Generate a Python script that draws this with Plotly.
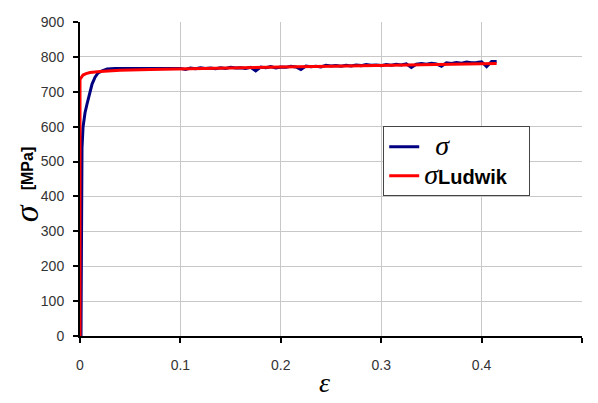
import plotly.graph_objects as go

# Experimental curve (sigma) - strain / stress [MPa]
exp_strain = [0.0, 0.0010, 0.0012, 0.0014, 0.0016, 0.002, 0.003, 0.005, 0.007, 0.010, 0.012,
              0.015, 0.018, 0.022, 0.027, 0.035, 0.040, 0.045,
              0.050, 0.055, 0.060, 0.065, 0.070, 0.075, 0.080, 0.085, 0.090, 0.095,
              0.100, 0.105, 0.110, 0.115, 0.120, 0.125, 0.130, 0.135, 0.140, 0.145,
              0.150, 0.155, 0.160, 0.165, 0.170, 0.175, 0.180, 0.185, 0.190, 0.195,
              0.200, 0.205, 0.210, 0.215, 0.220, 0.225, 0.230, 0.235, 0.240, 0.245,
              0.250, 0.255, 0.260, 0.265, 0.270, 0.275, 0.280, 0.285, 0.290, 0.295,
              0.300, 0.305, 0.310, 0.315, 0.320, 0.325, 0.330, 0.335, 0.340, 0.345,
              0.350, 0.355, 0.360, 0.365, 0.370, 0.375, 0.380, 0.385, 0.390, 0.395,
              0.400, 0.405, 0.410, 0.415]
exp_stress = [0, 0, 120, 300, 490, 540, 598, 640, 665, 700, 722,
              742, 754, 760, 765, 767, 767, 767,
              767, 768, 766, 767, 768, 767, 766, 767, 768, 766,
              767, 764, 768, 766, 769, 767, 768, 766, 769, 767,
              770, 768, 769, 767, 770, 760, 771, 769, 772, 768,
              771, 770, 773, 771, 764, 774, 772, 773, 771, 776,
              774, 775, 773, 776, 774, 777, 775, 778, 776, 777,
              775, 778, 776, 779, 777, 780, 770, 779, 781, 779,
              782, 780, 773, 783, 781, 784, 782, 785, 783, 784,
              786, 772, 787, 787]

# Ludwik fit
lud_strain = [0.0, 0.0, 0.001, 0.003, 0.006, 0.010, 0.020, 0.040, 0.070, 0.100,
              0.150, 0.200, 0.250, 0.300, 0.350, 0.400, 0.415]
lud_stress = [0, 735, 740, 748, 752, 755, 758, 762, 764, 766,
              769, 771, 773, 775, 777, 780, 781]

x_ticks = [0, 0.1, 0.2, 0.3, 0.4, 0.5]
x_tick_labels = ["0", "0.1", "0.2", "0.3", "0.4", "0.5"]
y_ticks = [0, 100, 200, 300, 400, 500, 600, 700, 800, 900]

sig = "<span style='font-family:Liberation Serif;font-style:italic;font-size:28px'>σ</span>"

fig = go.Figure()
fig.add_trace(go.Scatter(x=exp_strain, y=exp_stress, mode="lines",
                         line=dict(color="#000080", width=3),
                         name="\u00a0\u00a0" + sig))
fig.add_trace(go.Scatter(x=lud_strain, y=lud_stress, mode="lines",
                         line=dict(color="#FF0000", width=3),
                         name=sig + "<b>Ludwik</b>\u00a0\u00a0\u00a0"))

fig.update_layout(
    width=582, height=387,
    margin=dict(l=72, r=8, t=6, b=59),
    paper_bgcolor="white", plot_bgcolor="white",
    font=dict(family="Liberation Sans", size=14, color="#333333"),
    showlegend=True,
    legend=dict(x=0.604, y=0.668, xanchor="left", yanchor="top",
                bgcolor="white", bordercolor="#444444", borderwidth=1,
                font=dict(family="Liberation Sans", size=20, color="black"),
                itemwidth=30, tracegroupgap=0),
    xaxis=dict(range=[0, 0.5], tickvals=x_ticks, ticktext=x_tick_labels,
               showgrid=True, gridcolor="#C8C8C8", gridwidth=1,
               showline=True, linecolor="black", linewidth=2,
               ticks="outside", ticklen=5, tickcolor="black", tickwidth=2,
               ticklabelstandoff=10, zeroline=False),
    yaxis=dict(range=[0, 900], tickvals=y_ticks,
               showgrid=True, gridcolor="#C8C8C8", gridwidth=1,
               showline=True, linecolor="black", linewidth=2,
               ticks="outside", ticklen=5, tickcolor="black", tickwidth=2,
               ticklabelstandoff=6, ticklabeloverflow="allow", zeroline=False),
    annotations=[
        dict(text="<i>σ</i>", xref="paper", yref="paper", x=-0.1076, y=0.391,
             xanchor="center", yanchor="middle", showarrow=False, textangle=-90,
             font=dict(family="Liberation Serif", size=34, color="black")),
        dict(text="<b>[MPa]</b>", xref="paper", yref="paper", x=-0.1056, y=0.534,
             xanchor="center", yanchor="middle", showarrow=False, textangle=-90,
             font=dict(family="Liberation Sans", size=16, color="black")),
        dict(text="<i>ε</i>", xref="paper", yref="paper", x=0.488, y=-0.148,
             xanchor="center", yanchor="middle", showarrow=False,
             font=dict(family="Liberation Serif", size=28, color="black")),
    ],
)

fig.write_html("out.html")
